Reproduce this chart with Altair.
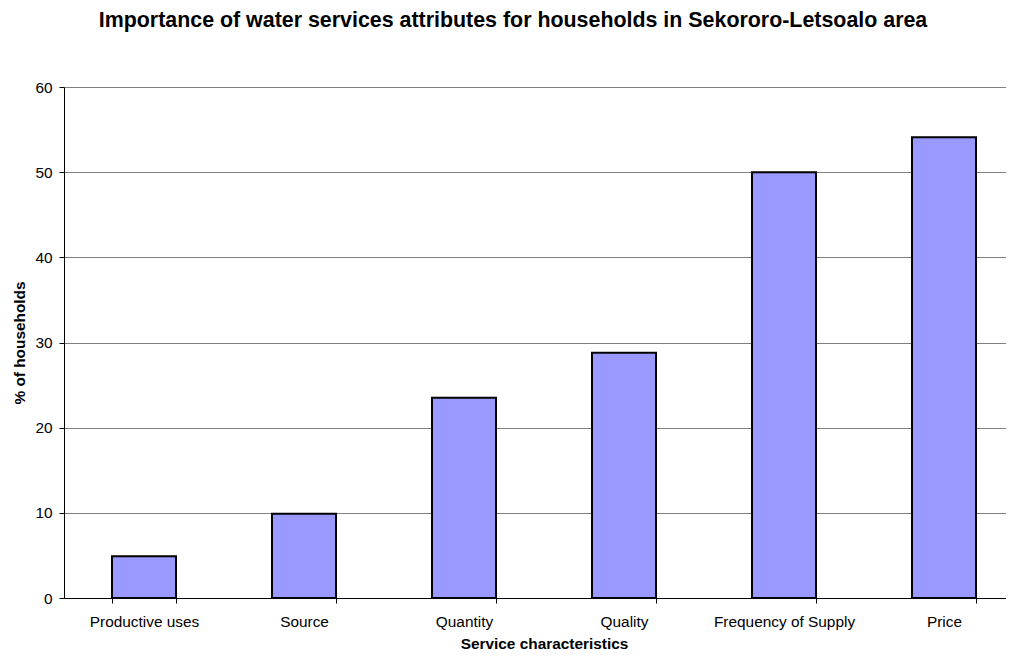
import altair as alt
import pandas as pd

categories = ["Productive uses", "Source", "Quantity", "Quality", "Frequency of Supply", "Price"]
values = [4.9, 9.9, 23.5, 28.8, 50.0, 54.1]

df = pd.DataFrame({"cat": categories, "val": values})

FONT = "Liberation Sans"

chart = alt.Chart(df).mark_bar(
    fill="#9999FF", stroke="black", strokeWidth=2
).encode(
    x=alt.X("cat:N", sort=categories,
            scale=alt.Scale(paddingInner=0.6, paddingOuter=0.3, range=[0, 960]),
            axis=alt.Axis(title="Service characteristics", labelAngle=0,
                          labelFontSize=15.4, labelPadding=11, tickSize=5,
                          tickBand="extent", labelFont=FONT,
                          titleFont=FONT, titleFontSize=15.4,
                          titleFontWeight="bold", titleX=480, titleY=50,
                          titleBaseline="alphabetic", grid=False,
                          domainColor="black", tickColor="black",
                          labelColor="black", titleColor="black")),
    y=alt.Y("val:Q", scale=alt.Scale(domain=[0, 60], nice=False),
            axis=alt.Axis(title="% of households", values=[0, 10, 20, 30, 40, 50, 60],
                          labelFontSize=15.4, labelPadding=7, tickSize=5,
                          labelFont=FONT, titleFont=FONT,
                          titleFontSize=15.4, titleFontWeight="bold",
                          titleX=-40, titleBaseline="alphabetic",
                          grid=True, gridColor="#808080", gridWidth=1,
                          domainColor="black", tickColor="black",
                          labelColor="black", titleColor="black")),
).properties(
    width=942, height=511,
    title=alt.TitleParams(
        "Importance of water services attributes for households in Sekororo-Letsoalo area",
        font=FONT, fontSize=21.4, fontWeight="bold", color="black",
        anchor="middle", dx=-22, offset=49),
    autosize=alt.AutoSizeParams(type="none"),
    padding={"left": 56, "top": 79, "right": 0, "bottom": 52},
).configure_view(stroke=None)

chart.save("out.html", embed_options={"renderer": "svg", "actions": False})
